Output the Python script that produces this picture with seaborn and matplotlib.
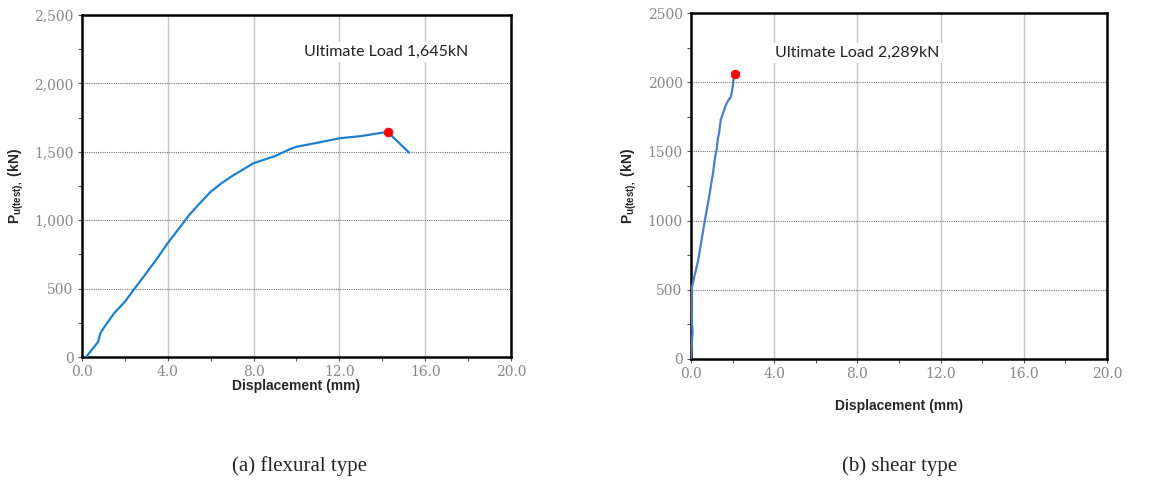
import numpy as np
import pandas as pd
from matplotlib import pyplot as plt
from matplotlib.ticker import MultipleLocator
import seaborn as sns

# (a) flexural type
flex_disp = [0.19, 0.5, 0.75, 0.85, 1.0, 1.5, 2.0, 2.5, 3.0, 3.5, 4.0, 4.5, 5.0, 5.5, 6.0,
             6.5, 7.0, 7.5, 8.0, 9.0, 9.7, 10.0, 11.0, 12.0, 13.0, 14.0, 14.27, 15.25]
flex_load = [0, 60, 110, 170, 210, 320, 404, 510, 613, 720, 833, 935, 1038, 1125, 1208,
             1270, 1323, 1370, 1417, 1469, 1520, 1537, 1567, 1599, 1615, 1640, 1643, 1494]
flex_peak = (14.27, 1643)
flex_text = 'Ultimate Load 1,645kN'
flex_yticks = ['0', '500', '1,000', '1,500', '2,000', '2,500']

# (b) shear type
shear_disp = [0.0, 0.02, 0.08, 0.05, 0.03, 0.05, 0.2, 0.35, 0.5, 0.67, 0.85, 1.0, 1.05, 1.15,
              1.23, 1.3, 1.35, 1.43, 1.55, 1.68, 1.8, 1.92, 2.0, 2.04, 2.1]
shear_load = [0, 50, 200, 260, 450, 520, 620, 715, 850, 1004, 1150, 1290, 1330, 1450,
              1510, 1600, 1630, 1727, 1780, 1835, 1870, 1895, 1960, 2016, 2059]
shear_peak = (2.1, 2059)
shear_text = 'Ultimate Load 2,289kN'
shear_yticks = ['0', '500', '1000', '1500', '2000', '2500']

xticks = [0, 4, 8, 12, 16, 20]
xticklabels = ['0.0', '4.0', '8.0', '12.0', '16.0', '20.0']

sns.set_style('white')
plt.rcParams['font.family'] = ['Liberation Sans', 'DejaVu Sans']
plt.rcParams['mathtext.fontset'] = 'custom'
plt.rcParams['mathtext.bf'] = 'Liberation Sans:bold'
plt.rcParams['mathtext.rm'] = 'Liberation Sans:bold'

fig = plt.figure(figsize=(11.64, 4.82), dpi=100)
ax1 = fig.add_axes([0.0704, 0.2593, 0.3686, 0.7095])
ax2 = fig.add_axes([0.5936, 0.2552, 0.3574, 0.7178])


def panel(ax, disp, load, peak, text, yticks, color, text_pos, xpad):
    df = pd.DataFrame({'disp': disp, 'load': load})
    sns.lineplot(data=df, x='disp', y='load', sort=False, estimator=None,
                 color=color, lw=1.6, ax=ax, zorder=3)
    sns.scatterplot(x=[peak[0]], y=[peak[1]], color='red', s=40, edgecolor='red',
                    ax=ax, zorder=4)
    ax.set_xlim(0, 20)
    ax.set_ylim(0, 2500)
    ax.set_xticks(xticks)
    ax.set_xticklabels(xticklabels)
    ax.set_yticks(range(0, 2501, 500))
    ax.set_yticklabels(yticks)
    ax.xaxis.set_minor_locator(MultipleLocator(2))
    ax.yaxis.set_minor_locator(MultipleLocator(250))
    ax.tick_params(axis='both', which='both', direction='out', length=3,
                   width=0.8, color='#555555', labelcolor='#888888', labelsize=10,
                   bottom=True, left=True, pad=3)
    for lab in ax.get_xticklabels() + ax.get_yticklabels():
        lab.set_family('DejaVu Serif')
    for x in xticks[1:-1]:
        ax.axvline(x, color='#c4c4c4', lw=1.0, zorder=1)
    for y in range(500, 2500, 500):
        ax.axhline(y, color='#777777', lw=0.8, ls=(0, (1, 1)), zorder=1)
    for s in ax.spines.values():
        s.set_color('black')
        s.set_linewidth(1.8)
    ax.set_xlabel('Displacement (mm)', fontsize=10, fontweight='bold', labelpad=xpad)
    ax.set_ylabel(r'$\mathbf{P_{u(test),}}$ (kN)', fontsize=10, fontweight='bold',
                  labelpad=6)
    ax.text(text_pos[0], text_pos[1], text, ha='center', va='center', fontsize=11.5,
            family=['Lato', 'DejaVu Sans'], color='#222222',
            bbox=dict(facecolor='white', edgecolor='none', pad=2), zorder=2)


panel(ax1, flex_disp, flex_load, flex_peak, flex_text, flex_yticks, '#1f7fcf',
      (14.2, 2230), 0)
panel(ax2, shear_disp, shear_load, shear_peak, shear_text, shear_yticks, '#4a80c4',
      (7.98, 2211), 13)

fig.text(300 / 1164, 1 - 466 / 482, '(a) flexural type', ha='center', va='center',
         fontsize=15, family='Liberation Serif')
fig.text(900 / 1164, 1 - 466 / 482, '(b) shear type', ha='center', va='center',
         fontsize=15, family='Liberation Serif')

fig.savefig('out.png', dpi=100)
